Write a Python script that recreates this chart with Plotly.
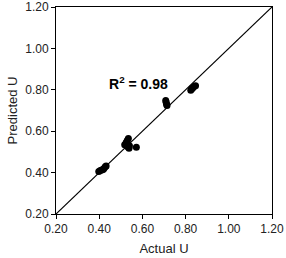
import plotly.graph_objects as go

actual = [0.398, 0.405, 0.412, 0.418, 0.422, 0.428, 0.432,
          0.518, 0.525, 0.530, 0.535, 0.532, 0.538, 0.540, 0.572,
          0.708, 0.710, 0.712, 0.714,
          0.824, 0.828, 0.832, 0.838, 0.846]
predicted = [0.405, 0.410, 0.412, 0.415, 0.420, 0.428, 0.432,
             0.535, 0.545, 0.555, 0.565, 0.525, 0.518, 0.530, 0.522,
             0.748, 0.740, 0.730, 0.724,
             0.798, 0.805, 0.808, 0.815, 0.820]
line_vals = [0.2, 1.2]
ticks = [0.2, 0.4, 0.6, 0.8, 1.0, 1.2]
tick_text = ["0.20", "0.40", "0.60", "0.80", "1.00", "1.20"]
r2_label = "R<sup>2</sup> = 0.98"

fig = go.Figure()
fig.add_trace(go.Scatter(x=line_vals, y=line_vals, mode="lines",
                         line=dict(color="black", width=1.2), hoverinfo="skip"))
fig.add_trace(go.Scatter(x=actual, y=predicted, mode="markers",
                         marker=dict(color="black", size=7)))
fig.add_annotation(x=0.584, y=0.833, text="<b>" + r2_label + "</b>", showarrow=False,
                   font=dict(size=14, color="black", family="Liberation Sans"))

axis_common = dict(range=[0.2, 1.2], tickvals=ticks, ticktext=tick_text,
                   showgrid=False, zeroline=False, showline=True, mirror=True,
                   linecolor="black", linewidth=1, ticks="outside", ticklen=4,
                   tickcolor="black", tickfont=dict(size=12, color="#222"),
                   automargin=False)
fig.update_xaxes(**axis_common, title=dict(text="Actual U", font=dict(size=13, color="#222"), standoff=8))
fig.update_yaxes(**axis_common, title=dict(text="Predicted U", font=dict(size=13, color="#222"), standoff=4))

fig.update_layout(width=286, height=258, showlegend=False,
                  margin=dict(l=56, r=14, t=7, b=44),
                  plot_bgcolor="white", paper_bgcolor="white",
                  font=dict(family="Liberation Sans"))
fig.write_html("out.html", config={"displayModeBar": False},
               post_script="document.body.style.margin='0';document.body.style.overflow='hidden';")
